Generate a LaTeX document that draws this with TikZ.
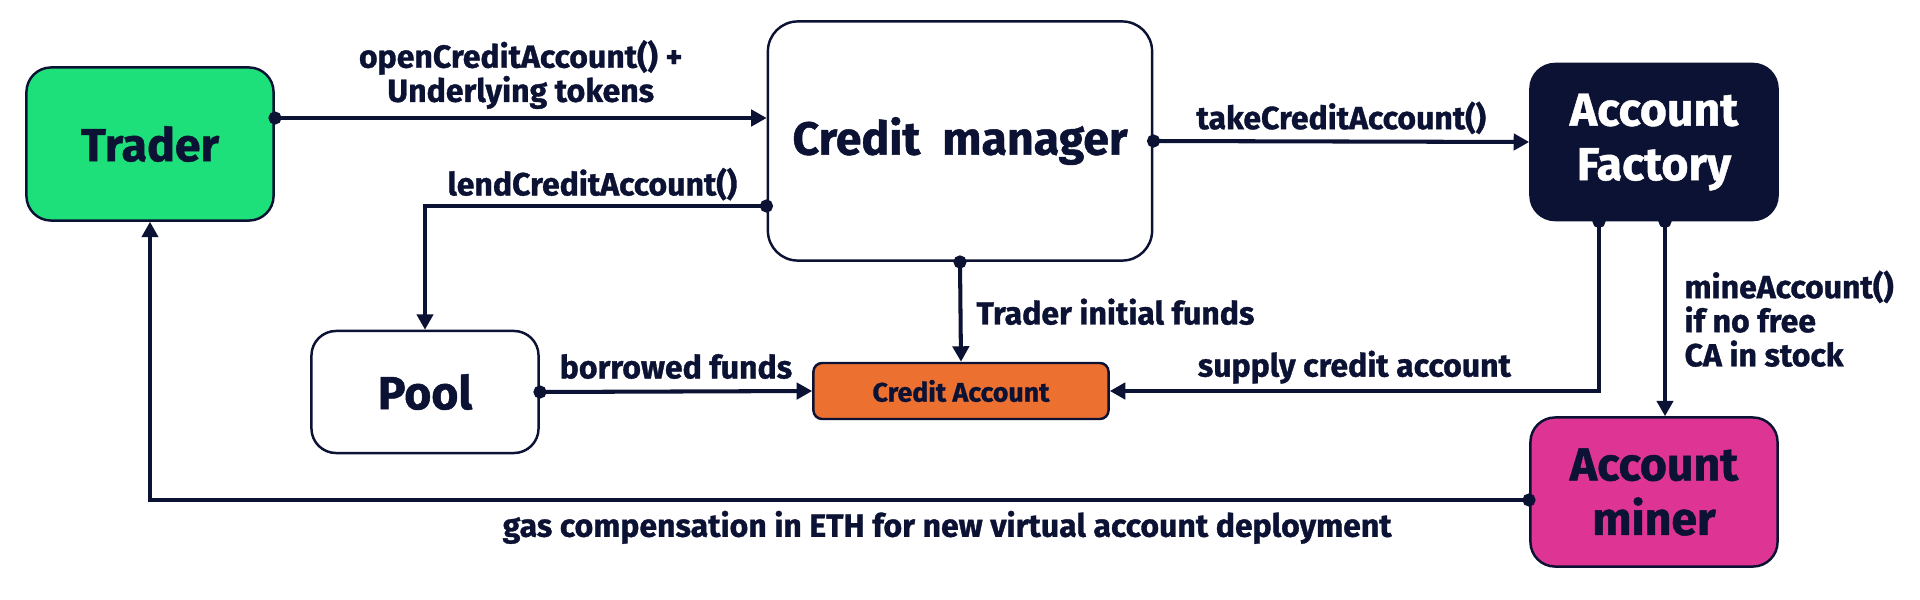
\documentclass[tikz,border=0pt]{standalone}
\usepackage{fontspec}
\setmainfont{Fira Sans}[BoldFeatures={FakeBold=1}]
\usetikzlibrary{arrows.meta}
\definecolor{ink}{RGB}{11,18,51}
\definecolor{tradergreen}{RGB}{29,224,122}
\definecolor{caorange}{RGB}{236,112,47}
\definecolor{minerpink}{RGB}{222,52,148}
\tikzset{
  box/.style={draw=ink, line width=0.7pt, rounded corners=7pt, inner sep=0pt,
    text=ink, align=center, font=\bfseries\fontsize{13.2}{15.5}\selectfont},
  link/.style={draw=ink, line width=1.15pt, shorten <=-1.8pt,
    {Circle[length=3.7pt]}-{Triangle[length=4.4pt,width=4.6pt]}},
  lbl/.style={text=ink, inner sep=2pt, align=left,
    font=\bfseries\fontsize{9.1}{9.7}\selectfont}
}
\begin{document}
\begin{tikzpicture}[x=0.01cm,y=-0.01cm]
\useasboundingbox (0,0) rectangle (1920,600);
% boxes
\node[box, fill=tradergreen, minimum width=2.47cm, minimum height=1.53cm] (trader) at (150,144) {Trader};
\node[box, fill=white, rounded corners=8.5pt, minimum width=3.84cm, minimum height=2.39cm] (manager) at (960,141) {Credit\ \ manager};
\node[box, fill=ink, text=white, minimum width=2.47cm, minimum height=1.56cm] (factory) at (1654,142) {Account\\Factory};
\node[box, fill=white, minimum width=2.27cm, minimum height=1.22cm] (pool) at (425,392) {Pool};
\node[box, fill=caorange, rounded corners=2.5pt, minimum width=2.95cm, minimum height=0.56cm,
  font=\bfseries\fontsize{7.6}{8.5}\selectfont] (caccount) at (961,391) {Credit Account};
\node[box, fill=minerpink, minimum width=2.47cm, minimum height=1.49cm] (miner) at (1654,492) {Account\\miner};
% helper points
\coordinate (openy) at (0,118);
\coordinate (lendy) at (0,206);
\coordinate (supplyx) at (1599,0);
\coordinate (minex) at (1665,0);
\coordinate (gasy) at (0,500);
% connectors
\draw[link] (trader.east |- openy) to node[lbl, above, align=center] {openCreditAccount() +\\Underlying tokens} (manager.west |- openy);
\draw[link] (manager.east) to node[lbl, above, yshift=-0.5pt] {takeCreditAccount()} (factory.west);
\draw[link] (manager.west |- lendy) -| node[lbl, above left, pos=0.03, yshift=-1pt] {lendCreditAccount()} (pool.north);
\draw[link] (manager.south) to node[lbl, right, xshift=2pt] {Trader initial funds} (caccount.north);
\draw[link] (pool.east) to node[lbl, above, yshift=1pt] {borrowed funds} (caccount.west);
\draw[link] (factory.south -| supplyx) |- node[lbl, above, pos=0.75, yshift=-0.5pt] {supply credit account} (caccount.east);
\draw[link] (factory.south -| minex) to node[lbl, right, xshift=3pt] {mineAccount()\\if no free\\CA in stock} (miner.north -| minex);
\draw[link] (miner.west |- gasy) -| node[lbl, below, pos=0.211, yshift=-0.5pt] {gas compensation in ETH for new virtual account deployment} (trader.south);
\end{tikzpicture}
\end{document}
